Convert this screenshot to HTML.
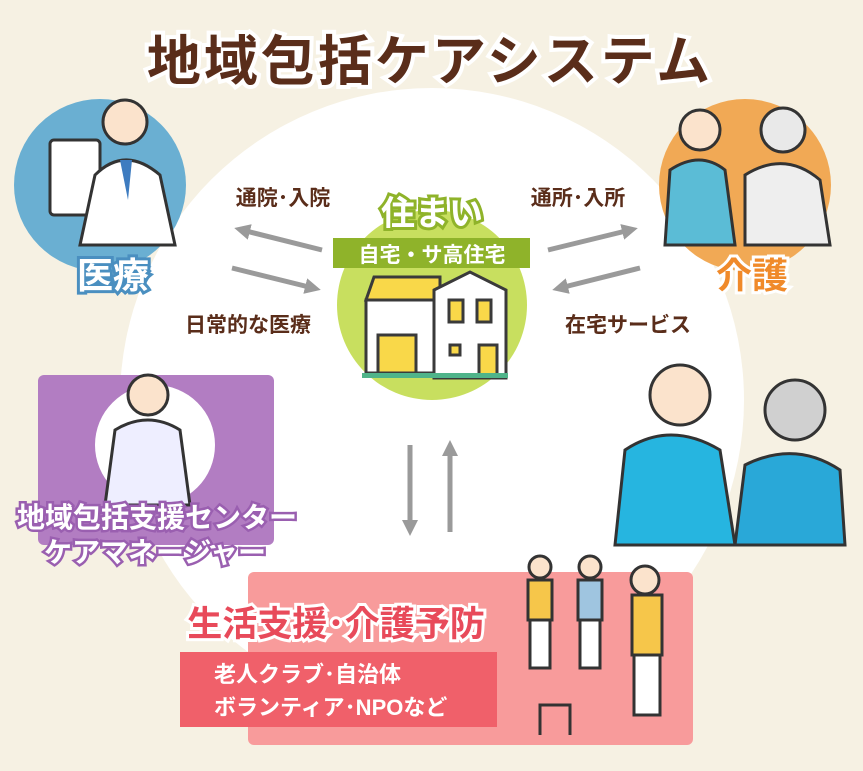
<!DOCTYPE html>
<html><head><meta charset="utf-8"><style>
html,body{margin:0;padding:0;width:863px;height:771px;overflow:hidden;background:#f6f1e3;}
svg{display:block}
text{font-family:"Liberation Sans","Noto Sans CJK JP",sans-serif;font-weight:bold;}
</style></head><body>
<svg width="863" height="771" viewBox="0 0 863 771">
<defs>
<marker id="ah" markerWidth="16" markerHeight="16" refX="8" refY="8" orient="auto" markerUnits="userSpaceOnUse">
<path d="M0,0 L16,8 L0,16 z" fill="#9a9a9a"/></marker>
</defs>
<rect width="863" height="771" fill="#f6f1e3"/>
<circle cx="432" cy="400" r="312" fill="#fff"/>
<text x="430" y="80" text-anchor="middle" font-size="54" fill="#5a2d1a" stroke="#fff" stroke-width="8" paint-order="stroke" letter-spacing="3">地域包括ケアシステム</text>
<!-- medical -->
<circle cx="100" cy="185" r="86" fill="#6aafd2"/>
<rect x="50" y="140" width="50" height="75" rx="4" fill="#fff" stroke="#333" stroke-width="3"/>
<circle cx="125" cy="122" r="22" fill="#fbe3cc" stroke="#333" stroke-width="3"/>
<path d="M95,175 Q125,145 160,175 L175,245 L80,245 Z" fill="#fff" stroke="#333" stroke-width="3"/>
<path d="M120,160 L128,200 L132,160z" fill="#3e7cc0"/>
<text x="113" y="288" text-anchor="middle" font-size="36" fill="#fff" stroke="#4a8fc0" stroke-width="6" paint-order="stroke">医療</text>
<!-- care -->
<circle cx="745" cy="185" r="86" fill="#f1a955"/>
<circle cx="700" cy="130" r="20" fill="#fbe3cc" stroke="#333" stroke-width="3"/>
<path d="M670,170 Q700,150 725,170 L735,245 L665,245Z" fill="#5bbcd6" stroke="#333" stroke-width="3"/>
<circle cx="783" cy="130" r="22" fill="#e9e9e9" stroke="#333" stroke-width="3"/>
<path d="M745,175 Q785,150 820,180 L830,245 L745,245Z" fill="#eee" stroke="#333" stroke-width="3"/>
<text x="752" y="288" text-anchor="middle" font-size="36" fill="#f08a2a" stroke="#fff" stroke-width="6" paint-order="stroke">介護</text>
<!-- home -->
<circle cx="432" cy="305" r="95" fill="#c8df5f"/>
<text x="432" y="225" text-anchor="middle" font-size="34" fill="#fff" stroke="#8fb32a" stroke-width="6" paint-order="stroke">住まい</text>
<rect x="333" y="238" width="197" height="30" fill="#8fb32a"/>
<text x="432" y="262" text-anchor="middle" font-size="21" fill="#fff">自宅・サ高住宅</text>
<g stroke="#3a3a3a" stroke-width="3">
<path d="M366,300 L374,277 L440,277 L440,300Z" fill="#f9d849"/>
<rect x="366" y="300" width="74" height="73" fill="#fff"/>
<rect x="378" y="335" width="38" height="38" fill="#f9d849"/>
<path d="M434,290 L470,272 L506,290 L506,378 L434,378Z" fill="#fff"/>
<rect x="449" y="300" width="14" height="22" fill="#f9d849"/>
<rect x="477" y="300" width="14" height="22" fill="#f9d849"/>
<rect x="479" y="345" width="18" height="33" fill="#f9d849"/>
<rect x="450" y="345" width="10" height="10" fill="#f9d849"/>
</g>
<rect x="362" y="373" width="146" height="5" fill="#4fb48a"/>
<g stroke="#9a9a9a" stroke-width="5" fill="none" marker-end="url(#ah)">
<line x1="322" y1="250" x2="242" y2="230"/>
<line x1="232" y1="268" x2="313" y2="288"/>
<line x1="548" y1="250" x2="630" y2="230"/>
<line x1="640" y1="268" x2="560" y2="288"/>
<line x1="410" y1="445" x2="410" y2="528"/>
<line x1="450" y1="532" x2="450" y2="448"/>
</g>
<g font-size="21" fill="#5a2d1a">
<text x="283" y="205" text-anchor="middle">通院･入院</text>
<text x="248" y="332" text-anchor="middle">日常的な医療</text>
<text x="578" y="205" text-anchor="middle">通所･入所</text>
<text x="628" y="332" text-anchor="middle">在宅サービス</text>
</g>
<rect x="38" y="375" width="236" height="170" rx="6" fill="#b27dc2"/>
<circle cx="155" cy="445" r="60" fill="#fff"/>
<circle cx="148" cy="395" r="20" fill="#fbe3cc" stroke="#333" stroke-width="3"/>
<path d="M115,430 Q148,410 180,430 L190,505 L105,505Z" fill="#eef" stroke="#333" stroke-width="3"/>
<text x="157" y="527" text-anchor="middle" font-size="28" fill="#fff" stroke="#9a5fb0" stroke-width="5" paint-order="stroke">地域包括支援センター</text>
<text x="155" y="562" text-anchor="middle" font-size="28" fill="#fff" stroke="#9a5fb0" stroke-width="5" paint-order="stroke">ケアマネージャー</text>
<circle cx="680" cy="395" r="30" fill="#fbe3cc" stroke="#333" stroke-width="3"/>
<path d="M625,450 Q670,420 720,450 L735,545 L615,545Z" fill="#26b5e0" stroke="#333" stroke-width="3"/>
<circle cx="795" cy="410" r="30" fill="#d0d0d0" stroke="#333" stroke-width="3"/>
<path d="M745,465 Q795,440 840,470 L845,545 L735,545Z" fill="#29a8d8" stroke="#333" stroke-width="3"/>
<rect x="248" y="572" width="445" height="173" rx="6" fill="#f89b9b"/>
<text x="336" y="636" text-anchor="middle" font-size="35" fill="#e84a5a" stroke="#fff" stroke-width="6" paint-order="stroke">生活支援･介護予防</text>
<rect x="180" y="652" width="317" height="75" fill="#f0606a"/>
<text x="214" y="682" font-size="22" fill="#fff">老人クラブ･自治体</text>
<text x="214" y="715" font-size="22" fill="#fff">ボランティア･NPOなど</text>
<g stroke="#333" stroke-width="3">
<circle cx="540" cy="567" r="11" fill="#fbe3cc"/>
<rect x="528" y="580" width="24" height="40" fill="#f6c64a"/>
<rect x="530" y="620" width="20" height="48" fill="#fff"/>
<circle cx="590" cy="567" r="11" fill="#fbe3cc"/>
<rect x="578" y="580" width="24" height="40" fill="#9fc5e0"/>
<rect x="580" y="620" width="20" height="48" fill="#fff"/>
<circle cx="645" cy="580" r="14" fill="#fbe3cc"/>
<rect x="632" y="595" width="30" height="60" fill="#f6c64a"/>
<rect x="634" y="655" width="26" height="60" fill="#fff"/>
<path d="M540,735 L540,705 L570,705 L570,735" fill="none"/>
</g>
</svg>
</body></html>
